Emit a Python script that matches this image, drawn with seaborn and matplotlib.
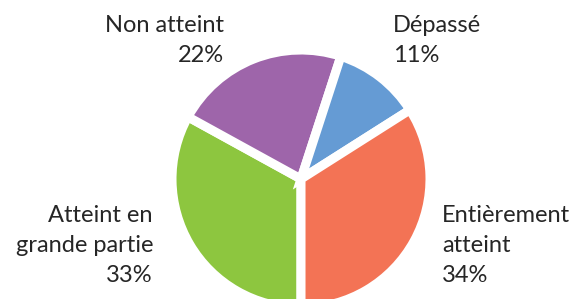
import matplotlib
matplotlib.use('Agg')
import matplotlib.pyplot as plt
import seaborn as sns

sns.set_theme(style='white')
plt.rcParams['font.family'] = ['Lato', 'DejaVu Sans']

# données (ordre du tracé : départ en bas, sens horaire)
categories = ['Atteint en grande partie', 'Non atteint', 'Dépassé', 'Entièrement atteint']
valeurs = [33, 22, 11, 34]
couleurs = ['#8DC63F', '#9E65AA', '#659BD4', '#F37355']

# étiquettes affichées (lignes) et placement en pixels (x, ligne de base du 1er trait, alignement)
etiquettes = {
    'Atteint en grande partie': (['Atteint en', 'grande partie'], 153, 222, 'right'),
    'Non atteint': (['Non atteint'], 224, 32, 'right'),
    'Dépassé': (['Dépassé'], 393, 32, 'left'),
    'Entièrement atteint': (['Entièrement', 'atteint'], 442, 222, 'left'),
}

W, H = 576, 299
fig = plt.figure(figsize=(W / 100, H / 100), dpi=100)
fig.patch.set_facecolor('white')

# centre du camembert (301, 179) px depuis le haut, rayon 129 px
cx, cy, R = 301, 179, 129
ax = fig.add_axes([(cx - R) / W, (H - cy - R) / H, 2 * R / W, 2 * R / H])
ax.pie(valeurs, colors=couleurs, startangle=270, counterclock=False,
       radius=1, wedgeprops={'edgecolor': 'white', 'linewidth': 6.5})
ax.set_xlim(-1, 1)
ax.set_ylim(-1, 1)
ax.set_aspect('equal')
ax.axis('off')

pas = 30  # interligne en px
for cat, val in zip(categories, valeurs):
    lignes, x, y0, ha = etiquettes[cat]
    lignes = lignes + [f'{val}%']
    for i, txt in enumerate(lignes):
        fig.text(x / W, 1 - (y0 + i * pas) / H, txt, ha=ha, va='baseline',
                 fontsize=17, color='#262626')

fig.savefig('out.png', dpi=100, facecolor='white')
